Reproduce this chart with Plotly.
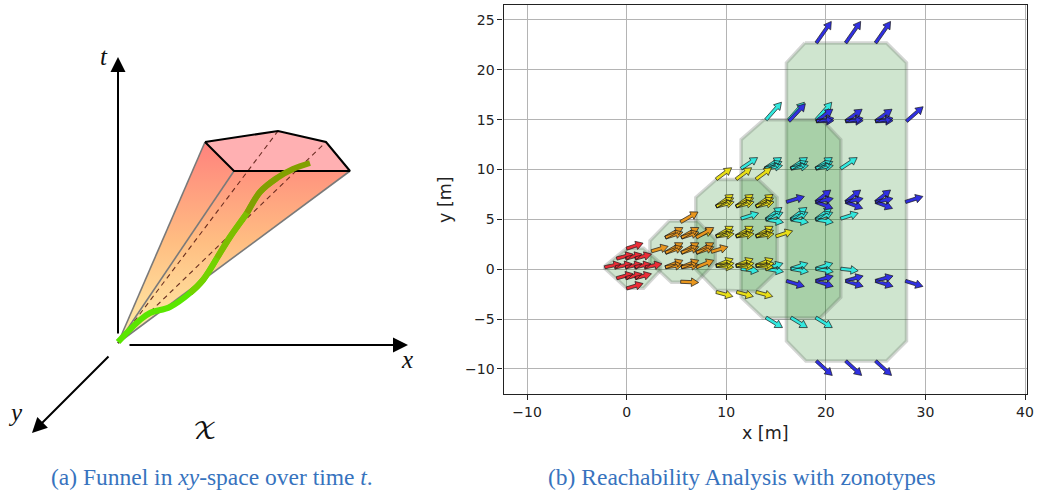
import plotly.graph_objects as go

# ---- right panel: reachability data (data units, metres)
x_ticks = [-10, 0, 10, 20, 30, 40]
y_ticks = [-10, -5, 0, 5, 10, 15, 20, 25]

zono_blue_x = [17.9, 26.1, 28.1, 28.1, 26.1, 18.0, 16.05, 16.05]
zono_blue_y = [22.7, 22.7, 20.7, -7.2, -9.2, -9.2, -7.2, 20.7]
zono_cyan_x = [13.8, 19.6, 21.5, 21.5, 19.4, 13.7, 11.5, 11.5]
zono_cyan_y = [15.0, 15.0, 13.0, -2.8, -4.9, -4.9, -2.8, 13.0]
zono_yellow_x = [9.0, 13.2, 15.1, 15.1, 13.0, 9.0, 6.95, 6.95]
zono_yellow_y = [9.0, 9.0, 7.2, -0.2, -2.2, -2.1, 0.0, 7.2]
zono_orange_x = [4.3, 7.1, 8.9, 8.9, 7.0, 4.5, 2.35, 2.35]
zono_orange_y = [4.85, 4.85, 3.0, 0.7, -1.3, -1.3, 0.7, 2.85]
zono_red_x = [0.0, 1.7, 3.4, 3.4, 1.7, 0.0, -2.2, -2.2]
zono_red_y = [2.1, 2.1, 0.6, -0.1, -1.9, -1.9, 0.1, 0.3]

red_x = [0.0, -1.0, -0.1, 0.85, -2.2, -1.1, -0.1, 0.8, 1.9, -1.0, -0.1, 0.85, 0.0]
red_y = [2.07, 1.07, 1.07, 1.07, 0.2, 0.2, 0.2, 0.2, 0.2, -0.9, -0.9, -0.9, -1.93]
red_u = [1.65] * 13
red_v = [0.55, 0.45, 0.45, 0.45, 0.35, 0.35, 0.35, 0.35, 0.35, 0.45, 0.45, 0.45, 0.5]

orange_x = [5.43, 3.9, 5.5, 7.0, 3.9, 5.5, 2.5, 3.9, 5.5, 7.0, 3.9, 5.5, 7.0, 8.5, 3.9, 5.5, 7.0, 3.9, 5.5, 5.43]
orange_y = [4.74, 3.18, 3.18, 3.18, 3.18, 3.18, 1.8, 1.65, 1.65, 1.65, 1.65, 1.65, 1.65, 1.75, 0.2, 0.2, 0.2, 0.2, 0.2, -1.25]
orange_u = [1.74, 1.75, 1.75, 1.75, 1.75, 1.75, 1.67, 1.75, 1.75, 1.75, 1.75, 1.75, 1.75, 1.67, 1.75, 1.75, 1.75, 1.75, 1.75, 1.8]
orange_v = [1.0, 1.0, 1.0, 1.0, 0.55, 0.55, 0.5, 1.0, 1.0, 1.0, 0.6, 0.6, 0.6, 0.5, 0.7, 0.7, 0.7, 0.25, 0.25, -0.08]

yellow_x = [9.0, 11.0, 13.0, 9.0, 9.0, 9.0, 11.0, 11.0, 11.0, 13.0, 13.0, 13.0,
            7.0, 9.0, 9.0, 9.0, 11.0, 11.0, 11.0, 13.0, 13.0, 13.0, 15.0,
            9.0, 9.0, 9.0, 11.0, 11.0, 11.0, 13.0, 13.0, 13.0, 9.0, 11.05, 13.0]
yellow_y = [9.03, 9.03, 9.03, 6.3, 6.3, 6.3, 6.3, 6.3, 6.3, 6.3, 6.3, 6.3,
            3.3, 3.3, 3.3, 3.3, 3.3, 3.3, 3.3, 3.3, 3.3, 3.3, 3.3,
            0.35, 0.35, 0.35, 0.35, 0.35, 0.35, 0.35, 0.35, 0.35, -2.28, -2.28, -2.28]
yellow_u = [1.55, 1.55, 1.55, 1.7, 1.75, 1.8, 1.7, 1.75, 1.8, 1.7, 1.75, 1.8,
            1.7, 1.7, 1.75, 1.8, 1.7, 1.75, 1.8, 1.7, 1.75, 1.8, 1.67,
            1.7, 1.8, 1.75, 1.7, 1.8, 1.75, 1.7, 1.8, 1.75, 1.67, 1.67, 1.67]
yellow_v = [1.15, 1.15, 1.15, 1.2, 0.85, 0.45, 1.2, 0.85, 0.45, 1.2, 0.85, 0.45,
            0.65, 1.0, 0.6, 0.25, 1.0, 0.6, 0.25, 1.0, 0.6, 0.25, 0.55,
            0.7, 0.25, -0.15, 0.7, 0.25, -0.15, 0.7, 0.25, -0.15, -0.45, -0.45, -0.45]

cyan_x = [14.0, 16.3, 19.05, 11.5, 13.9, 13.9, 13.9, 16.5, 16.5, 16.5, 19.0, 19.0, 19.0, 21.5,
          11.5, 14.0, 14.0, 14.0, 16.5, 16.5, 16.5, 19.0, 19.0, 19.0, 21.5,
          11.5, 14.0, 14.0, 16.5, 16.5, 19.0, 19.0, 21.5, 14.0, 16.5, 19.0]
cyan_y = [15.0, 15.0, 15.0, 10.1, 10.1, 10.1, 10.1, 10.1, 10.1, 10.1, 10.1, 10.1, 10.1, 10.1,
          5.08, 5.0, 5.0, 5.0, 5.0, 5.0, 5.0, 5.0, 5.0, 5.0, 5.08,
          0.05, 0.05, 0.05, 0.05, 0.05, 0.05, 0.05, 0.05, -4.85, -4.85, -4.85]
cyan_u = [1.55, 1.55, 1.55, 1.65, 1.65, 1.7, 1.75, 1.65, 1.7, 1.75, 1.65, 1.7, 1.75, 1.65,
          1.75, 1.6, 1.7, 1.75, 1.6, 1.7, 1.75, 1.6, 1.7, 1.75, 1.75,
          1.75, 1.7, 1.75, 1.7, 1.75, 1.7, 1.75, 1.75, 1.65, 1.65, 1.65]
cyan_v = [1.75, 1.75, 1.75, 1.1, 1.1, 0.7, 0.3, 1.1, 0.7, 0.3, 1.1, 0.7, 0.3, 1.1,
          0.55, 1.2, 0.7, -0.3, 1.2, 0.7, -0.3, 1.2, 0.7, -0.3, 0.55,
          -0.25, 0.55, -0.3, 0.55, -0.3, 0.55, -0.3, -0.2, -1.0, -1.0, -1.0]

blue_x = [19.05, 22.0, 25.0, 16.3, 19.05, 19.05, 19.05, 22.0, 22.0, 22.0, 25.0, 25.0, 25.0, 28.1,
          16.05, 19.0, 19.0, 19.0, 22.0, 22.0, 22.0, 25.0, 25.0, 25.0, 28.0,
          16.05, 19.0, 19.0, 22.0, 22.0, 25.0, 25.0, 28.0, 19.05, 22.0, 25.0]
blue_y = [22.7, 22.7, 22.7, 14.85, 14.85, 14.85, 14.85, 14.85, 14.85, 14.85, 14.85, 14.85, 14.85, 14.85,
          6.75, 6.75, 6.75, 6.75, 6.75, 6.75, 6.75, 6.75, 6.75, 6.75, 6.75,
          -1.17, -1.17, -1.17, -1.17, -1.17, -1.17, -1.17, -1.17, -9.2, -9.2, -9.2]
blue_u = [1.5, 1.5, 1.5, 1.65, 1.65, 1.75, 1.75, 1.65, 1.75, 1.75, 1.65, 1.75, 1.75, 1.67,
          1.8, 1.5, 1.75, 1.7, 1.5, 1.75, 1.7, 1.5, 1.75, 1.7, 1.75,
          1.8, 1.75, 1.75, 1.75, 1.75, 1.75, 1.75, 1.75, 1.6, 1.6, 1.6]
blue_v = [2.15, 2.15, 2.15, 1.75, 1.2, 0.3, 0.05, 1.2, 0.3, 0.05, 1.2, 0.3, 0.05, 1.45,
          0.55, 1.2, 0.35, -0.65, 1.2, 0.35, -0.65, 1.2, 0.35, -0.65, 0.55,
          -0.55, 0.5, -0.55, 0.5, -0.55, 0.5, -0.55, -0.55, -1.45, -1.45, -1.45]

# ---- left panel: funnel sketch (page pixels)
funnel_x = [118, 205, 234, 350, 118]
funnel_y = [343, 142, 171, 171, 343]
top_x = [205, 278, 326, 350, 234, 205]
top_y = [142, 131, 142, 171, 171, 142]
ridge_x = [118, 234]
ridge_y = [343, 171]
side_left_x = [118, 205]
side_left_y = [343, 142]
side_right_x = [118, 350]
side_right_y = [343, 171]
dash_a_x = [118, 278]
dash_a_y = [343, 131]
dash_b_x = [118, 326]
dash_b_y = [343, 142]
curve_1_x = [118, 140, 150, 170, 190, 203, 217]
curve_1_y = [342, 320, 313, 307, 293, 280, 258]
curve_2_x = [190, 203, 217, 230, 247]
curve_2_y = [293, 280, 258, 237, 213]
curve_3_x = [217, 230, 247, 260, 277]
curve_3_y = [258, 237, 213, 192, 178]
curve_4_x = [247, 260, 277, 293, 310]
curve_4_y = [213, 192, 178, 169, 163]


def arrows(xs, ys, us, vs):
    """Quiver-style outlines built from base points and vectors."""
    shaft, head_w, head_l = 0.16, 0.43, 0.72
    px, py = [], []
    for x, y, u, v in zip(xs, ys, us, vs):
        n = (u * u + v * v) ** 0.5
        ex, ey = u / n, v / n
        nx, ny = -ey, ex
        bx, by = x + u - ex * head_l, y + v - ey * head_l
        px += [x + nx * shaft, bx + nx * shaft, bx + nx * head_w, x + u,
               bx - nx * head_w, bx - nx * shaft, x - nx * shaft, x + nx * shaft, None]
        py += [y + ny * shaft, by + ny * shaft, by + ny * head_w, y + v,
               by - ny * head_w, by - ny * shaft, y - ny * shaft, y + ny * shaft, None]
    return px, py


fig = go.Figure()

for zx, zy in [(zono_blue_x, zono_blue_y), (zono_cyan_x, zono_cyan_y),
               (zono_yellow_x, zono_yellow_y), (zono_orange_x, zono_orange_y),
               (zono_red_x, zono_red_y)]:
    fig.add_trace(go.Scatter(x=zx + zx[:1], y=zy + zy[:1], mode="lines", fill="toself",
                             fillcolor="rgba(0,115,0,0.19)",
                             line=dict(color="rgba(95,105,95,0.27)", width=3.5),
                             hoverinfo="skip", showlegend=False))

for ax_, ay_, au, av, col in [
    (cyan_x, cyan_y, cyan_u, cyan_v, "rgb(50,232,222)"),
    (blue_x, blue_y, blue_u, blue_v, "rgb(48,48,225)"),
    (yellow_x, yellow_y, yellow_u, yellow_v, "rgb(232,222,25)"),
    (orange_x, orange_y, orange_u, orange_v, "rgb(232,150,30)"),
    (red_x, red_y, red_u, red_v, "rgb(235,45,55)"),
]:
    px, py = arrows(ax_, ay_, au, av)
    fig.add_trace(go.Scatter(x=px, y=py, mode="lines", fill="toself", fillcolor=col,
                             line=dict(color="rgba(25,25,25,0.7)", width=1),
                             hoverinfo="skip", showlegend=False))

# left sketch on a page-pixel overlay axis
ov = dict(xaxis="x2", yaxis="y2", hoverinfo="skip", showlegend=False)
fig.add_trace(go.Scatter(x=funnel_x, y=funnel_y, mode="lines", fill="toself",
                         fillgradient=dict(type="vertical", start=343, stop=142,
                                           colorscale=[[0, "rgb(255,240,170)"],
                                                       [0.5, "rgb(255,190,130)"],
                                                       [1, "rgb(255,130,125)"]]),
                         line=dict(width=0), **ov))
fig.add_trace(go.Scatter(x=top_x, y=top_y, mode="lines", fill="toself",
                         fillcolor="rgb(255,176,178)", line=dict(width=0), **ov))
for sx, sy in [(side_left_x, side_left_y), (side_right_x, side_right_y), (ridge_x, ridge_y)]:
    fig.add_trace(go.Scatter(x=sx, y=sy, mode="lines", line=dict(color="#7a7a7a", width=1.6), **ov))
for sx, sy in [(dash_a_x, dash_a_y), (dash_b_x, dash_b_y)]:
    fig.add_trace(go.Scatter(x=sx, y=sy, mode="lines",
                             line=dict(color="rgba(90,30,20,0.9)", width=1.1, dash="5px,4px"), **ov))
fig.add_trace(go.Scatter(x=top_x, y=top_y, mode="lines", line=dict(color="black", width=2), **ov))
for cx, cy, ccol in [(curve_1_x, curve_1_y, "rgb(90,230,0)"),
                     (curve_2_x, curve_2_y, "rgb(115,210,0)"),
                     (curve_3_x, curve_3_y, "rgb(125,190,0)"),
                     (curve_4_x, curve_4_y, "rgb(130,160,0)")]:
    fig.add_trace(go.Scatter(x=cx, y=cy, mode="lines",
                             line=dict(color=ccol, width=6, shape="spline"), **ov))

annotations = []
for x0, y0, x1, y1 in [(118, 335, 118, 57), (128, 345, 408, 345), (110, 355, 32, 433)]:
    annotations.append(dict(x=x1, y=y1, ax=x0, ay=y0, xref="x2", yref="y2", axref="x2", ayref="y2",
                            text="", showarrow=True, arrowhead=2, arrowsize=1.5, arrowwidth=2,
                            arrowcolor="black"))
for txt, x, y, size in [("t", 104, 56, 25), ("x", 407, 359, 25), ("y", 15, 412, 25)]:
    annotations.append(dict(x=x, y=y, xref="x2", yref="y2", text=f"<i>{txt}</i>", showarrow=False,
                            font=dict(family="Liberation Serif", size=size, color="#111")))
annotations.append(dict(x=205, y=431, xref="x2", yref="y2", text="\U0001D4B3", showarrow=False,
                        font=dict(family="DejaVu Math TeX Gyre, DejaVu Serif", size=25, color="#111")))
annotations.append(dict(x=211.5, y=477, xref="x2", yref="y2", showarrow=False,
                        text="(a) Funnel in <i>xy</i>-space over time <i>t</i>.",
                        font=dict(family="Liberation Serif", size=23.5, color="rgb(55,115,190)")))
annotations.append(dict(x=741.5, y=477, xref="x2", yref="y2", showarrow=False,
                        text="(b) Reachability Analysis with zonotypes",
                        font=dict(family="Liberation Serif", size=23.5, color="rgb(55,115,190)")))

axis_common = dict(showline=True, linecolor="#222", linewidth=1.2, mirror=True, automargin=False,
                   ticks="outside", ticklen=5, tickwidth=1, tickcolor="#222",
                   showgrid=True, gridcolor="#b4b4b4", gridwidth=1.4, zeroline=False,
                   tickfont=dict(family="DejaVu Sans", size=14, color="#222"))
fig.update_layout(
    width=1037, height=495, margin=dict(l=0, r=0, t=0, b=0, autoexpand=False),
    paper_bgcolor="white", plot_bgcolor="rgba(0,0,0,0)", showlegend=False,
    annotations=annotations,
    xaxis=dict(domain=[503.5 / 1037, 1027 / 1037], range=[-12.36, 40.2], tickvals=x_ticks,
               title=dict(text="x [m]", standoff=7, font=dict(family="DejaVu Sans", size=17.5, color="#222")),
               **axis_common),
    yaxis=dict(domain=[1 - 394.3 / 495, 1 - 5 / 495], range=[-12.54, 26.5], tickvals=y_ticks,
               title=dict(text="y [m]", standoff=8, font=dict(family="DejaVu Sans", size=17.5, color="#222")),
               **axis_common),
    xaxis2=dict(domain=[0, 1], range=[0, 1037], visible=False, anchor="y2", fixedrange=True, automargin=False),
    yaxis2=dict(domain=[0, 1], range=[495, 0], visible=False, anchor="x2", fixedrange=True, automargin=False),
)

fig.write_html("out.html", config={"displayModeBar": False},
               post_script="document.body.style.margin='0';")
